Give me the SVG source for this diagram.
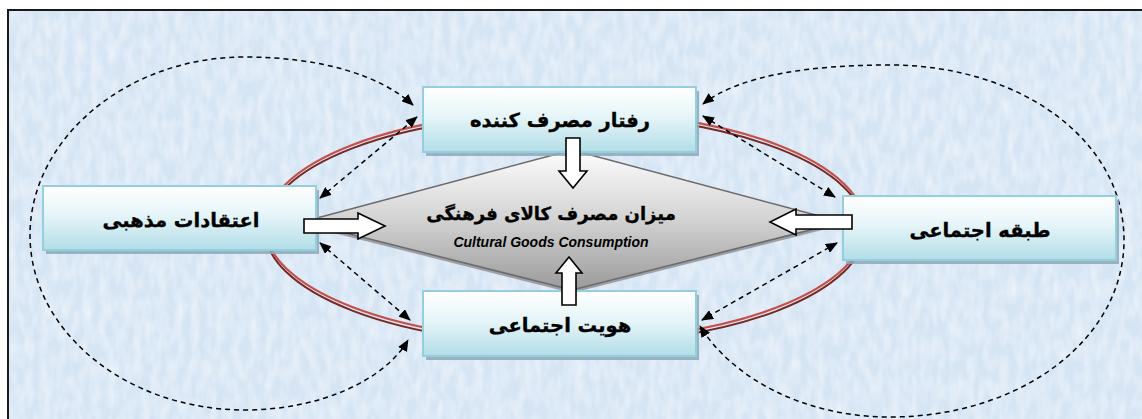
<svg xmlns="http://www.w3.org/2000/svg" width="1142" height="419" viewBox="0 0 1142 419">
<style>
.box{fill:url(#boxg);stroke:#93cfdc;stroke-width:2}
.shadow{fill:#8da8b8;opacity:0.85}
.lbl{font-family:"DejaVu Sans",sans-serif;font-weight:bold;font-size:19.5px;fill:#000;stroke:#000;stroke-width:0.35;text-anchor:middle}
.dash{fill:none;stroke:#000;stroke-width:1.5;stroke-dasharray:5 4;marker-start:url(#ah);marker-end:url(#ah)}
.blk{fill:#fff;stroke:#000;stroke-width:1.6;stroke-linejoin:miter}
</style>
<defs>
<linearGradient id="boxg" x1="0" y1="0" x2="0" y2="1">
<stop offset="0" stop-color="#ffffff"/>
<stop offset="0.45" stop-color="#e6f5f8"/>
<stop offset="1" stop-color="#b2dde7"/>
</linearGradient>
<linearGradient id="diag" x1="0" y1="0" x2="0" y2="1">
<stop offset="0" stop-color="#fdfdfd"/>
<stop offset="0.5" stop-color="#d2d2d2"/>
<stop offset="1" stop-color="#9a9a9a"/>
</linearGradient>
<filter id="tex" x="0" y="0" width="100%" height="100%">
<feTurbulence type="fractalNoise" baseFrequency="0.12 0.05" numOctaves="2" seed="4"/>
<feColorMatrix type="matrix" values="0 0 0 0 1  0 0 0 0 1  0 0 0 0 1  0 0 0 0.9 -0.3"/>
</filter>
<marker id="ah" markerUnits="userSpaceOnUse" markerWidth="12" markerHeight="10" refX="11" refY="5" orient="auto-start-reverse">
<path d="M0,0 L12,5 L0,10 Z" fill="#000"/>
</marker>
</defs>
<rect x="0" y="0" width="1142" height="419" fill="#ffffff"/>
<rect x="8" y="10" width="1140" height="415" fill="#d6e5f4"/>
<rect x="8" y="10" width="1140" height="415" filter="url(#tex)"/>
<path d="M8,419 L8,10 L1142,10" fill="none" stroke="#1a1a1a" stroke-width="2"/>

<g id="connectors">
<ellipse cx="565" cy="229.5" rx="300" ry="115" fill="none" stroke="#762826" stroke-width="2"/>
<ellipse cx="565" cy="226" rx="300" ry="115" fill="none" stroke="#c4504c" stroke-width="2.2"/>
<path class="dash" d="M413,105 C380,75 320,57 245,57 C125,57 30,140 30,235 C30,330 125,410 245,410 C320,410 385,380 408,340"/>
<path class="dash" d="M703,104 C740,75 810,65 890,65 C1020,65 1124,140 1124,240 C1124,340 1020,417 890,417 C800,417 730,375 700,326"/>
<path class="dash" d="M320,198 L417,117"/>
<path class="dash" d="M320,243 L410,320"/>
<path class="dash" d="M703,116 L835,197"/>
<path class="dash" d="M837,243 L702,320"/>
</g>

<g id="center">
<polygon points="302,225 572,153 842,225 572,293" fill="#6f6f6f" opacity="0.6"/>
<polygon points="302,222 572,150 842,222 572,290" fill="url(#diag)" stroke="#6a6a6a" stroke-width="1.5"/>
<text class="lbl" x="551" y="220" style="font-size:18px">میزان مصرف کالای فرهنگی</text>
<text x="551" y="247" font-family="'Liberation Sans',Arial,sans-serif" font-weight="bold" font-style="italic" font-size="14" text-anchor="middle" fill="#000">Cultural Goods Consumption</text>
</g>

<g id="top">
<rect class="shadow" x="426" y="91" width="273" height="65"/>
<rect class="box" x="423" y="87" width="273" height="65"/>
<text class="lbl" x="560" y="127">رفتار مصرف کننده</text>
</g>
<g id="bottom">
<rect class="shadow" x="426" y="295" width="273" height="65"/>
<rect class="box" x="423" y="291" width="273" height="65"/>
<text class="lbl" x="560" y="332">هویت اجتماعی</text>
</g>
<g id="left">
<rect class="shadow" x="46" y="190" width="273" height="64"/>
<rect class="box" x="43" y="186" width="273" height="64"/>
<text class="lbl" x="181" y="227">اعتقادات مذهبی</text>
</g>
<g id="right">
<rect class="shadow" x="846" y="200" width="273" height="64"/>
<rect class="box" x="843" y="196" width="273" height="64"/>
<text class="lbl" x="980" y="237">طبقه اجتماعی</text>
</g>

<g id="blockarrows">
<path class="blk" d="M566,138 L580,138 L580,171 L587,171 L573,188 L559,171 L566,171 Z"/>
<path class="blk" d="M562,305 L576,305 L576,273 L582,273 L569,257 L556,273 L562,273 Z"/>
<path class="blk" d="M304,219 L358,219 L358,213 L385,226 L358,239 L358,233 L304,233 Z"/>
<path class="blk" d="M852,215 L796,215 L796,209 L770,222 L796,235 L796,229 L852,229 Z"/>
</g>
</svg>
